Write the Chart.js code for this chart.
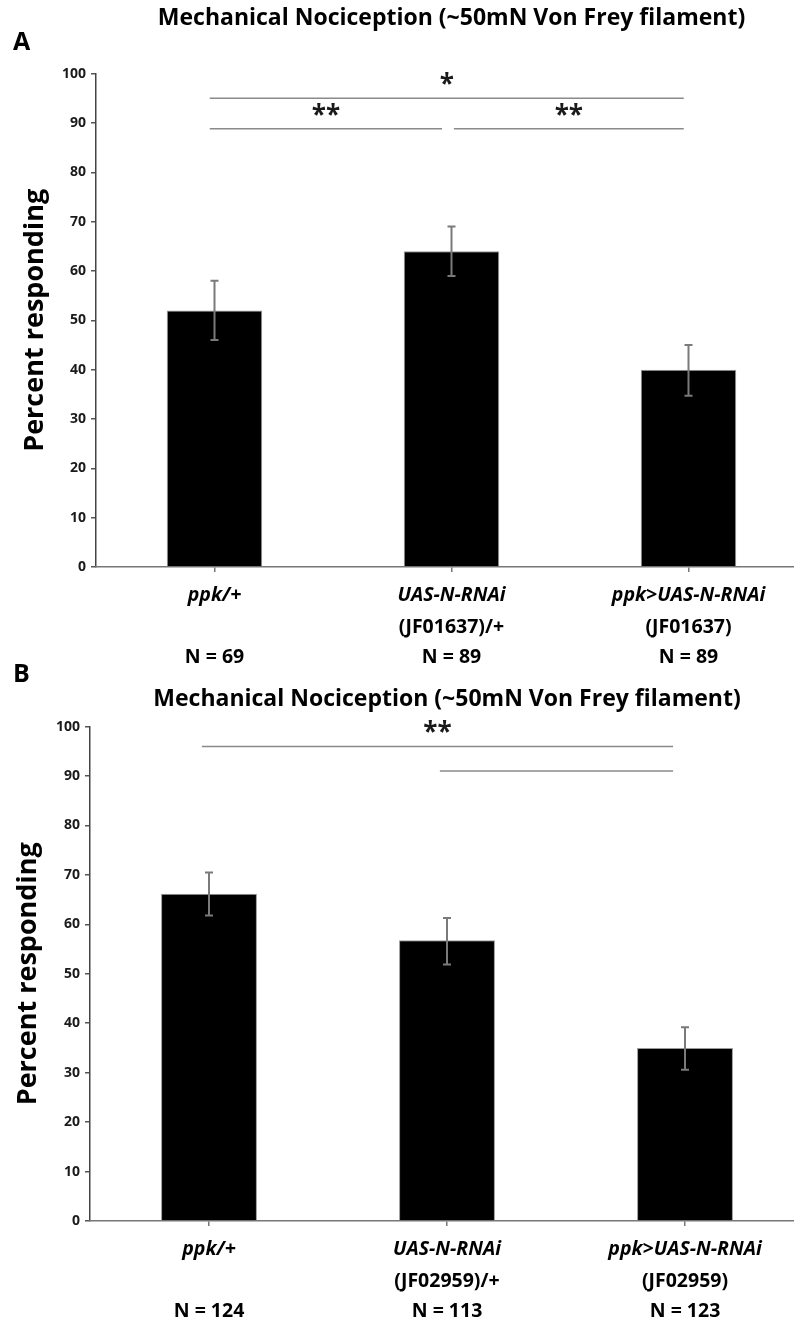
<!DOCTYPE html>
<html>
<head>
<meta charset="utf-8">
<script src="https://cdn.jsdelivr.net/npm/chart.js@4.4.1/dist/chart.umd.min.js"></script>
<style>
  html, body { margin: 0; padding: 0; width: 794px; height: 1321px; overflow: hidden; background: #fff; }
  canvas { position: absolute; left: 0; }
  .tag { position: absolute; font: bold 25px 'Open Sans', sans-serif; color: #000; z-index: 2; }
</style>
</head>
<body>
<canvas id="chartA" width="903" height="671" style="top:0"></canvas>
<canvas id="chartB" width="894" height="665" style="top:660px"></canvas>
<div class="tag" style="left:13px; top:23px;">A</div>
<div class="tag" style="left:13px; top:655px;">B</div>
<script>
/* ==========================================
   Mechanical nociception bar charts (A / B)
========================================== */

const FONT = "'Open Sans', Lato, sans-serif";
const TITLE = "Mechanical Nociception (~50mN Von Frey filament)";
const Y_LABEL = "Percent responding";

// panel A
const namesA = ["ppk/+", "UAS-N-RNAi", "ppk>UAS-N-RNAi"];
const linesA = ["", "(JF01637)/+", "(JF01637)"];
const countsA = ["N = 69", "N = 89", "N = 89"];
const valuesA = [52, 64, 40];
const errHighA = [58, 69, 45];
const errLowA = [46, 59, 34.7];
const sigFromA = [-0.02, -0.02, 1.01];
const sigToA = [1.98, 0.96, 1.98];
const sigLevelA = [95, 88.8, 88.8];
const sigTextA = ["*", "**", "**"];

// panel B
const namesB = ["ppk/+", "UAS-N-RNAi", "ppk>UAS-N-RNAi"];
const linesB = ["", "(JF02959)/+", "(JF02959)"];
const countsB = ["N = 124", "N = 113", "N = 123"];
const valuesB = [66.2, 56.8, 35];
const errHighB = [70.5, 61.3, 39.2];
const errLowB = [61.8, 51.9, 30.6];
const sigFromB = [-0.03, 0.97];
const sigToB = [1.95, 1.95];
const sigLevelB = [96, 91];
const sigTextB = ["**", ""];

const errorBars = {
  id: "errorBars",
  afterDatasetsDraw(chart, args, opts) {
    const { ctx, scales: { y } } = chart;
    const meta = chart.getDatasetMeta(0);
    ctx.save();
    ctx.strokeStyle = "#7a7a7a";
    ctx.lineWidth = 2;
    opts.high.forEach((hi, i) => {
      const px = meta.data[i].x;
      const top = y.getPixelForValue(hi);
      const bot = y.getPixelForValue(opts.low[i]);
      ctx.beginPath();
      ctx.moveTo(px, top); ctx.lineTo(px, bot);
      ctx.moveTo(px - 4, top); ctx.lineTo(px + 4, top);
      ctx.moveTo(px - 4, bot); ctx.lineTo(px + 4, bot);
      ctx.stroke();
    });
    ctx.restore();
  },
};

const sigBrackets = {
  id: "sigBrackets",
  afterDatasetsDraw(chart, args, opts) {
    const { ctx, scales: { x, y } } = chart;
    const step = x.getPixelForValue(1) - x.getPixelForValue(0);
    const base = x.getPixelForValue(0);
    ctx.save();
    ctx.strokeStyle = "#8a8a8a";
    ctx.lineWidth = 1.5;
    ctx.fillStyle = "#1a1a1a";
    ctx.font = `bold 26px ${FONT}`;
    ctx.textAlign = "center";
    ctx.textBaseline = "alphabetic";
    opts.from.forEach((f, i) => {
      const x0 = base + f * step;
      const x1 = base + opts.to[i] * step;
      const py = y.getPixelForValue(opts.level[i]);
      ctx.beginPath();
      ctx.moveTo(x0, py); ctx.lineTo(x1, py);
      ctx.stroke();
      if (opts.text[i]) ctx.fillText(opts.text[i], (x0 + x1) / 2, py - 5);
    });
    ctx.restore();
  },
};

function buildChart(id, cfg) {
  const axisFont = { family: FONT, size: 19.5, weight: "bold" };
  return new Chart(document.getElementById(id), {
    type: "bar",
    data: {
      labels: cfg.names,
      datasets: [{
        data: cfg.values,
        backgroundColor: "#000",
        borderColor: "#9a9a9a",
        borderWidth: 1,
        barPercentage: 0.403,
        categoryPercentage: 1,
      }],
    },
    options: {
      responsive: false,
      animation: false,
      plugins: {
        legend: { display: false },
        tooltip: { enabled: false },
        title: {
          display: true,
          text: TITLE,
          color: "#000",
          font: { family: FONT, size: 23, weight: "bold" },
          padding: cfg.titlePad,
        },
        errorBars: { high: cfg.errHigh, low: cfg.errLow },
        sigBrackets: { from: cfg.sigFrom, to: cfg.sigTo, level: cfg.sigLevel, text: cfg.sigText },
      },
      scales: {
        y: {
          min: 0,
          max: 100,
          ticks: { stepSize: 10, color: "#1a1a1a", padding: 5, font: { family: FONT, size: 14, weight: "bold" } },
          grid: { drawOnChartArea: false, tickLength: 5, color: "#555", lineWidth: 1.5 },
          border: { color: "#444", width: 1.5 },
          title: {
            display: true,
            text: Y_LABEL,
            color: "#000",
            font: { family: FONT, size: 27, weight: "bold" },
            padding: { top: cfg.yTitlePad, bottom: 0 },
          },
          afterFit: (s) => { s.width = cfg.axisLeft; },
        },
        // empty right axis: keeps the plot area where the original crop puts it
        yRight: {
          position: "right",
          min: 0,
          max: 100,
          ticks: { display: false },
          grid: { display: false, drawTicks: false },
          border: { display: false },
          afterFit: (s) => { s.width = cfg.axisLeft; },
        },
        x: {
          offset: true,
          weight: 0,
          grid: { drawOnChartArea: false, offset: false, tickLength: 5, color: "#777", lineWidth: 1.5 },
          border: { color: "#777", width: 1.5 },
          ticks: { color: "#000", padding: 12, font: { ...axisFont, style: "italic" } },
          afterFit: (s) => { s.height = 42; },
        },
        x2: {
          type: "category",
          position: "bottom",
          labels: cfg.lines,
          offset: true,
          weight: 1,
          grid: { display: false, drawTicks: false },
          border: { display: false },
          ticks: { color: "#000", padding: 7, font: axisFont },
          afterFit: (s) => { s.height = 32; },
        },
        x3: {
          type: "category",
          position: "bottom",
          labels: cfg.counts,
          offset: true,
          weight: 2,
          grid: { display: false, drawTicks: false },
          border: { display: false },
          ticks: { color: "#000", padding: 5, font: axisFont },
          afterFit: (s) => { s.height = 30; },
        },
      },
    },
    plugins: [errorBars, sigBrackets],
  });
}

buildChart("chartA", {
  names: namesA, lines: linesA, counts: countsA, values: valuesA,
  errHigh: errHighA, errLow: errLowA,
  sigFrom: sigFromA, sigTo: sigToA, sigLevel: sigLevelA, sigText: sigTextA,
  axisLeft: 96, yTitlePad: 19, titlePad: { top: 5, bottom: 41 },
});

buildChart("chartB", {
  names: namesB, lines: linesB, counts: countsB, values: valuesB,
  errHigh: errHighB, errLow: errLowB,
  sigFrom: sigFromB, sigTo: sigToB, sigLevel: sigLevelB, sigText: sigTextB,
  axisLeft: 90, yTitlePad: 12, titlePad: { top: 26, bottom: 13 },
});
</script>
</body>
</html>
